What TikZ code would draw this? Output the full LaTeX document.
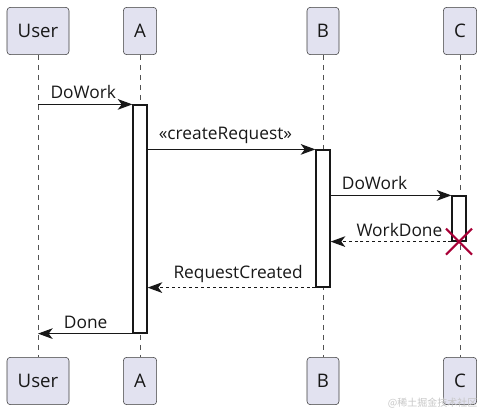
\documentclass[tikz,border=0pt]{standalone}
\usepackage{fontspec}
\setmainfont{Open Sans}
\newfontfamily\cjk{Noto Sans CJK SC}
\usetikzlibrary{arrows.meta}
\definecolor{partfill}{HTML}{E2E2F0}
\definecolor{linegray}{HTML}{181818}
\definecolor{destroyred}{HTML}{A80036}

\begin{document}
\begin{tikzpicture}[
  x = 0.75pt, y = -0.75pt,
  every node/.style = {font = \fontsize{13}{15}\selectfont, text = linegray},
  part/.style = {draw = linegray!85, fill = partfill, rounded corners = 2.5pt,
                 minimum height = 35.5pt, inner sep = 0pt, font = \fontsize{14}{16}\selectfont},
  lifeline/.style = {draw = linegray!75, line width = 0.6pt, dash pattern = on 4pt off 3.5pt},
  act/.style = {draw = linegray, fill = white, line width = 0.9pt,
                minimum width = 10.5pt, inner sep = 0pt},
  msg/.style = {draw = linegray, line width = 0.9pt, -{Stealth[length = 11pt, width = 8pt, inset = 3pt]}},
  reply/.style = {msg, dash pattern = on 2.2pt off 2.2pt},
  lbl/.style = {anchor = south west, inner sep = 0pt, yshift = 3.5pt}
  ]
  \useasboundingbox (0,0) rectangle (485,413);

  % participants
  \node[part, minimum width = 46.5pt] (userT) at (38,31) {User};
  \node[part, minimum width = 25pt] (aT) at (140,31) {A};
  \node[part, minimum width = 24pt] (bT) at (323,31) {B};
  \node[part, minimum width = 25pt] (cT) at (460,31) {C};
  \node[part, minimum width = 46.5pt] (userB) at (38,381) {User};
  \node[part, minimum width = 25pt] (aB) at (140,381) {A};
  \node[part, minimum width = 24pt] (bB) at (323,381) {B};
  \node[part, minimum width = 25pt] (cB) at (460,381) {C};

  \draw[lifeline] (userT) -- (userB);
  \draw[lifeline] (aT) -- (aB);
  \draw[lifeline] (bT) -- (bB);
  \draw[lifeline] (cT) -- (cB);

  % activations
  \node[act, minimum height = 171pt] (actA) at (140,219) {};
  \node[act, minimum height = 102.75pt] (actB) at (323,218.5) {};
  \node[act, minimum height = 33.75pt] (actC) at (459,218.5) {};

  % messages
  \draw[msg] (userT |- actA.north) -- (actA.north west)
    node[lbl] at ([xshift = 9pt] userT |- actA.north) {DoWork};
  \draw[msg] (actA.east |- actB.north) -- (actB.north west)
    node[lbl] at ([xshift = 8pt] actA.east |- actB.north) {«createRequest»};
  \draw[msg] (actB.east |- actC.north) -- (actC.north west)
    node[lbl] at ([xshift = 8pt] actB.east |- actC.north) {DoWork};
  \draw[reply] (actC.south west) -- (actB.east |- actC.south)
    node[lbl] at ([xshift = 19pt] actB.east |- actC.south) {WorkDone};
  \draw[reply] (actB.south west) -- (actA.east |- actB.south)
    node[lbl] at ([xshift = 19pt] actA.east |- actB.south) {RequestCreated};
  \draw[msg] (actA.south west) -- (userT |- actA.south)
    node[lbl] at ([xshift = 19pt] userT |- actA.south) {Done};

  % destroy
  \draw[destroyred, line width = 1.6pt] ([shift = {(-13,-13)}] actC.south) -- ([shift = {(13,13)}] actC.south)
    ([shift = {(-13,13)}] actC.south) -- ([shift = {(13,-13)}] actC.south);

  \node[anchor = east, text = gray!45, font = \cjk\fontsize{7.5}{9}\selectfont] (mark) at (482,403) {@稀土掘金技术社区};
\end{tikzpicture}
\end{document}
